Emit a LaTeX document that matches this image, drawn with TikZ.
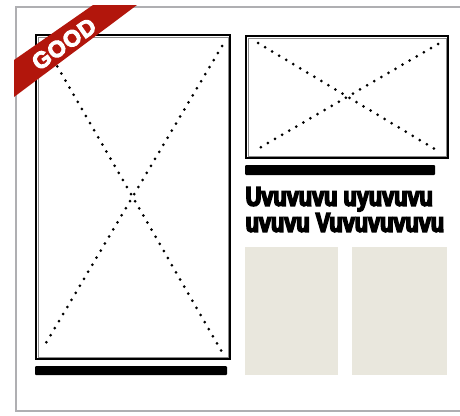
\documentclass[tikz,border=0pt]{standalone}
\usepackage{fontspec}
\setmainfont{Liberation Sans}
\newfontfamily\headfont{Liberation Sans Bold}[FakeStretch=0.805, FakeBold=6]
\newfontfamily\goodfont{Liberation Sans Bold}[LetterSpace=3, FakeBold=4]
\definecolor{framegray}{RGB}{175,175,178}
\definecolor{paper}{RGB}{233,231,221}
\definecolor{ribbon}{RGB}{178,22,12}
\tikzset{
  pframe/.style={draw=black, line width=2pt},
  pinner/.style={draw=black!45, line width=0.5pt},
  dotline/.style={line width=3pt, line cap=round, dash pattern=on 0pt off 8.2pt},
  bar/.style={fill=black, rounded corners=1pt},
  swatch/.style={fill=paper},
  headline/.style={font=\headfont\fontsize{27}{26}\selectfont, anchor=base west, inner sep=0pt}
}
\begin{document}
\begin{tikzpicture}[x=1pt,y=-1pt]
\useasboundingbox (0,0) rectangle (460,415);
% outer frame
\draw[framegray, line width=1.4pt] (462,7) -- (16,7) -- (16,411) -- (462,411);
% left picture frame
\coordinate (L1) at (36,35);
\coordinate (L2) at (230,359);
\draw[pframe] (L1) rectangle (L2);
\draw[pinner] (38,37) rectangle (228,357);
\coordinate (la) at (45,45);
\coordinate (lb) at (222,352);
\coordinate (lc) at (222,46);
\coordinate (ld) at (43,348);
\draw[dotline] (la) -- (lb);
\draw[dotline] (lc) -- (ld);
% left bar
\fill[bar] (35,366) rectangle (227,375);
% right picture frame
\coordinate (R1) at (246,36);
\coordinate (R2) at (448,158);
\draw[pframe] (R1) rectangle (R2);
\draw[pinner] (248,38) rectangle (446,156);
\coordinate (ra) at (258,43);
\coordinate (rb) at (438,151);
\coordinate (rc) at (438,44);
\coordinate (rd) at (256,150);
\draw[dotline] (ra) -- (rb);
\draw[dotline] (rc) -- (rd);
% right bar
\fill[bar] (245,165) rectangle (435,175);
% headline
\node[headline] (t1) at (245.5,205.7) {Uvuvuvu uyuvuvu};
\node[headline] (t2) at (245.5,231.7) {uvuvu Vuvuvuvuvu};
% swatches
\fill[swatch] (245,247) rectangle (338,375);
\fill[swatch] (352,247) rectangle (447,375);
% ribbon
\fill[ribbon] (14,60) -- (93,5) -- (137,5) -- (14,97) -- cycle;
\node[text=white, rotate=35, inner sep=0pt, font=\goodfont\fontsize{23}{23}\selectfont] (good) at (64,44) {GOOD};
\end{tikzpicture}
\end{document}
